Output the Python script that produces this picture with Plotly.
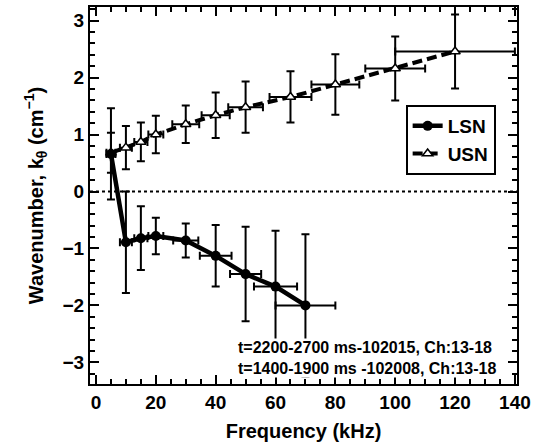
import plotly.graph_objects as go

# LSN series (solid, filled circles)
lsn_f = [5, 10, 15, 20, 30, 40, 50, 60, 70]
lsn_k = [0.66, -0.89, -0.82, -0.78, -0.86, -1.13, -1.45, -1.67, -2.0]
lsn_ek = [0.80, 0.89, 0.56, 0.32, 0.30, 0.54, 0.83, 0.98, 1.25]
lsn_ef = [1.5, 2, 2.2, 2.5, 4.2, 5.3, 5.2, 7.2, 10]

# USN series (dashed, open triangles)
usn_f = [5, 10, 15, 20, 30, 40, 50, 65, 80, 100, 120]
usn_k = [0.68, 0.77, 0.87, 1.0, 1.18, 1.34, 1.48, 1.66, 1.88, 2.16, 2.46]
usn_ek = [0.35, 0.38, 0.34, 0.33, 0.33, 0.40, 0.45, 0.45, 0.53, 0.56, 0.65]
usn_ef = [1.5, 2, 2.2, 2.5, 4.5, 4.7, 5.8, 7, 8, 10, 20]

x_ticks = [0, 20, 40, 60, 80, 100, 120, 140]
y_ticks = [-3, -2, -1, 0, 1, 2, 3]
x_range = [-2, 140.7]
y_range = [-3.38, 3.24]

FONT = "Liberation Sans"

fig = go.Figure()

fig.add_trace(go.Scatter(
    x=usn_f, y=usn_k, name="USN", mode="lines+markers", legendrank=2,
    line=dict(color="black", width=4, dash="10px,5px"),
    marker=dict(symbol="triangle-up", size=9, color="white",
                line=dict(color="black", width=1.5)),
    error_y=dict(type="data", array=usn_ek, color="black", thickness=2, width=4),
    error_x=dict(type="data", array=usn_ef, color="black", thickness=2, width=4),
))

fig.add_trace(go.Scatter(
    x=lsn_f, y=lsn_k, name="LSN", mode="lines+markers", legendrank=1,
    line=dict(color="black", width=4.5),
    marker=dict(symbol="circle", size=10, color="black"),
    error_y=dict(type="data", array=lsn_ek, color="black", thickness=2, width=4),
    error_x=dict(type="data", array=lsn_ef, color="black", thickness=2, width=4),
))

# empty trace to activate mirrored top/right axes (for minor ticks)
fig.add_trace(go.Scatter(x=[], y=[], xaxis="x2", yaxis="y2", showlegend=False, hoverinfo="skip"))

fig.add_shape(type="line", xref="paper", yref="y", x0=0, x1=1, y0=0, y1=0,
              line=dict(color="black", width=2, dash="dot"))

tick_common = dict(ticks="inside", ticklen=9, tickwidth=2, tickcolor="black")
minor_x = dict(dtick=5, tick0=0, ticks="inside", ticklen=5, tickwidth=2, tickcolor="black")
minor_y = dict(dtick=0.2, tick0=0, ticks="inside", ticklen=5, tickwidth=2, tickcolor="black")
tfont = dict(family=FONT, size=19, color="black", weight="bold")

fig.update_layout(
    xaxis=dict(
        range=x_range, tickvals=x_ticks, ticktext=[str(v) for v in x_ticks],
        showgrid=False, zeroline=False, showline=True, linecolor="black", linewidth=2,
        mirror=True, minor=minor_x, tickfont=tfont, **tick_common,
        title=dict(text="Frequency (kHz)", font=dict(family=FONT, size=20, color="black", weight="bold"),
                   standoff=12),
    ),
    yaxis=dict(
        range=y_range, tickvals=y_ticks,
        ticktext=[("\u2212" + str(-v)) if v < 0 else str(v) for v in y_ticks],
        showgrid=False, zeroline=False, showline=True, linecolor="black", linewidth=2,
        mirror=True, minor=minor_y, tickfont=tfont, **tick_common,
        title=dict(text="Wavenumber, k<sub>\u03b8</sub> (cm<sup>\u22121</sup>)",
                   font=dict(family=FONT, size=20, color="black", weight="bold"), standoff=14),
    ),
    xaxis2=dict(
        range=x_range, overlaying="x", side="top", anchor="y", tickvals=x_ticks,
        showticklabels=False, showgrid=False, zeroline=False, showline=False,
        minor=minor_x, **tick_common,
    ),
    yaxis2=dict(
        range=y_range, overlaying="y", side="right", anchor="x", tickvals=y_ticks,
        showticklabels=False, showgrid=False, zeroline=False, showline=False,
        minor=minor_y, **tick_common,
    ),
)

fig.add_annotation(
    xref="paper", yref="paper", x=0.3435, y=0.122, xanchor="left", yanchor="top",
    text="t=2200-2700 ms-102015, Ch:13-18<br>t=1400-1900 ms -102008, Ch:13-18",
    showarrow=False, align="left", bgcolor="white", borderpad=0,
    font=dict(family=FONT, size=16, color="black", weight="bold"),
)

fig.update_layout(
    width=536, height=448,
    margin=dict(l=90, r=18, t=5, b=64),
    paper_bgcolor="white", plot_bgcolor="white",
    showlegend=True,
    legend=dict(x=0.95, y=0.74, xanchor="right", yanchor="top",
                bgcolor="white", bordercolor="black", borderwidth=2,
                itemwidth=30, tracegroupgap=0,
                font=dict(family=FONT, size=19, color="black", weight="bold")),
)

fig.write_html("out.html", config={"displayModeBar": False},
               post_script="document.body.style.margin='0';")
